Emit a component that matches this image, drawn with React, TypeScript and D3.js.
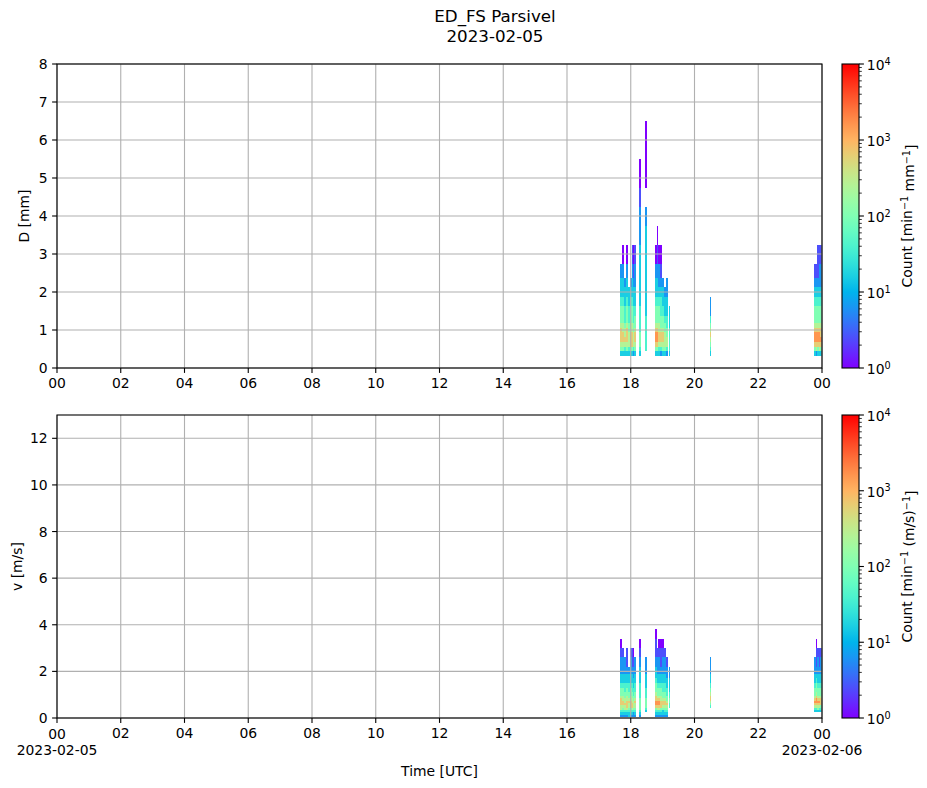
import React from 'react';
import * as d3 from 'd3';

const title = 'ED_FS Parsivel';
const dayStart = Date.UTC(2023, 1, 5);
const dayEnd = Date.UTC(2023, 1, 6);

// diameter / velocity class boundaries used by the mesh
const dEdges = [0.312, 0.437, 0.562, 0.687, 0.812, 0.937, 1.062, 1.187, 1.375, 1.625, 1.875, 2.125, 2.375, 2.75, 3.25, 3.75, 4.25, 4.75, 5.5, 6.5];
const vEdges = [0.05, 0.15, 0.25, 0.35, 0.45, 0.55, 0.65, 0.75, 0.85, 0.95, 1.1, 1.3, 1.5, 1.7, 1.9, 2.2, 2.6, 3.0, 3.4, 3.8];

// time columns, minutes after 00 UTC
const colStart = [1060, 1064, 1067, 1071, 1075, 1079, 1082, 1085, 1087, 1095, 1107, 1125, 1129, 1132, 1135, 1139, 1143, 1146, 1152, 1229, 1425, 1428, 1431, 1434, 1437];
const colEnd = [1064, 1067, 1071, 1075, 1079, 1082, 1085, 1087, 1090, 1099, 1111, 1129, 1132, 1135, 1139, 1143, 1146, 1150, 1154, 1231, 1428, 1431, 1434, 1437, 1440];

// counts per class, bottom class first; digit n -> 10^(0.4 n), '.' -> no drops
const dProfiles = [
  '3567776554332',
  '35677665543320',
  '346766544332',
  '35677765543320',
  '34666554433',
  '357776655432',
  '35777665543321',
  '24666554433210',
  '35677655433221',
  '345554444333332210',
  '.444444433333332.00',
  '35788765543320',
  '357887655433210',
  '34677665543220',
  '24677655443210',
  '356776554332',
  '35666554332',
  '246655443322',
  '344444333',
  '3456765422',
  '3578876554321',
  '2678876554321',
  '35788765543211',
  '36788765543221',
  '35787765543221',
];
const vProfiles = [
  '234667776554332210',
  '23456776655433221',
  '2346676655443322',
  '23467776655433211',
  '334566765544332',
  '23457776655433221',
  '23467766554433211',
  '22456665544332210',
  '2345667655443322',
  '234555554444333210',
  '..34555544433322',
  '2345788776554332110',
  '23467887655433221',
  '234678876554332210',
  '234577766554332110',
  '233567765544332210',
  '23456776554433221',
  '2345676554433221',
  '....44554433322',
  '....456776543322',
  '..34678765543322',
  '..3467887655432110',
  '..356787655433221',
  '..346787655433211',
  '..345777655433221',
];

const cbTicks = [1, 10, 100, 1000, 10000];

const font = 'DejaVu Sans';
const fs = 13.9;
const left = 57;
const right = 822;
const cbX = 842;
const cbW = 17;

// matplotlib "rainbow"
function rainbow(t: number) {
  const c = (v: number) => Math.round(Math.max(0, Math.min(1, v)) * 255);
  return `rgb(${c(Math.abs(2 * t - 0.5))},${c(Math.sin(Math.PI * t))},${c(Math.cos((Math.PI * t) / 2))})`;
}

const norm = d3.scaleLog().domain([1, 10000]).range([0, 1]).clamp(true);
const x = d3.scaleUtc().domain([new Date(dayStart), new Date(dayEnd)]).range([left, right]);
const xTicks = x.ticks(d3.utcHour.every(2)!);
const fmtH = d3.utcFormat('%H');
const fmtD = d3.utcFormat('%Y-%m-%d');
const toDate = (m: number) => new Date(dayStart + m * 60000);

const panels = [
  { key: 'd', top: 64, bottom: 368, yMax: 8, yTicks: d3.range(0, 9), label: 'D [mm]', labelX: 24, edges: dEdges, profiles: dProfiles, unit: 'mm' },
  { key: 'v', top: 415, bottom: 718, yMax: 13, yTicks: d3.range(0, 13, 2), label: 'v [m/s]', labelX: 17, edges: vEdges, profiles: vProfiles, unit: '(m/s)' },
];

function Panel({ p, last }: { p: typeof panels[0]; last: boolean }) {
  const y = d3.scaleLinear().domain([0, p.yMax]).range([p.bottom, p.top]);
  const cb = d3.scaleLog().domain([1, 10000]).range([p.bottom, p.top]);
  const minor: number[] = [];
  for (let e = 0; e < 4; e++) for (let k = 2; k < 10; k++) minor.push(k * Math.pow(10, e));
  const cells: JSX.Element[] = [];
  p.profiles.forEach((prof, j) => {
    const x0 = x(toDate(colStart[j]));
    const x1 = x(toDate(colEnd[j]));
    prof.split('').forEach((ch, i) => {
      if (ch === '.') return;
      const count = Math.pow(10, 0.4 * +ch);
      const y0 = y(p.edges[i]);
      const y1 = y(p.edges[i + 1]);
      cells.push(
        <rect key={`${j}-${i}`} x={x0} y={y1} width={x1 - x0} height={y0 - y1} fill={rainbow(norm(count))} shapeRendering="crispEdges" />
      );
    });
  });
  const stops = d3.range(0, 1.0001, 0.05);
  const cy = (p.top + p.bottom) / 2;
  return (
    <g>
      <defs>
        <clipPath id={`clip-${p.key}`}>
          <rect x={left} y={p.top} width={right - left} height={p.bottom - p.top} />
        </clipPath>
        <linearGradient id={`grad-${p.key}`} x1="0" y1="1" x2="0" y2="0">
          {stops.map((t) => (
            <stop key={t} offset={t} stopColor={rainbow(t)} />
          ))}
        </linearGradient>
      </defs>
      <g clipPath={`url(#clip-${p.key})`}>{cells}</g>
      {/* grid */}
      <g stroke="#b0b0b0" strokeWidth={1.1}>
        {xTicks.map((t) => (
          <line key={+t} x1={x(t)} x2={x(t)} y1={p.top} y2={p.bottom} />
        ))}
        {p.yTicks.map((t) => (
          <line key={t} x1={left} x2={right} y1={y(t)} y2={y(t)} />
        ))}
      </g>
      <rect x={left} y={p.top} width={right - left} height={p.bottom - p.top} fill="none" stroke="#000" strokeWidth={1.1} />
      {/* x axis */}
      {xTicks.map((t, i) => (
        <g key={+t}>
          <line x1={x(t)} x2={x(t)} y1={p.bottom} y2={p.bottom + 4.9} stroke="#000" strokeWidth={1.1} />
          <text x={x(t)} y={p.bottom + 19.5 + (last && (i === 0 || i === xTicks.length - 1) ? 1.5 : 0)} textAnchor="middle" fontSize={fs} fontFamily={font}>
            {fmtH(t)}
          </text>
          {last && (i === 0 || i === xTicks.length - 1) && (
            <text x={x(t)} y={p.bottom + 37} textAnchor="middle" fontSize={fs} fontFamily={font}>
              {fmtD(t)}
            </text>
          )}
        </g>
      ))}
      {/* y axis */}
      {p.yTicks.map((t) => (
        <g key={t}>
          <line x1={left - 4.9} x2={left} y1={y(t)} y2={y(t)} stroke="#000" strokeWidth={1.1} />
          <text x={left - 9.3} y={y(t)} dy="0.36em" textAnchor="end" fontSize={fs} fontFamily={font}>
            {t}
          </text>
        </g>
      ))}
      <text transform={`translate(${p.labelX},${cy}) rotate(-90)`} textAnchor="middle" dy="0.36em" fontSize={fs} fontFamily={font}>
        {p.label}
      </text>
      {/* colorbar */}
      <rect x={cbX} y={p.top} width={cbW} height={p.bottom - p.top} fill={`url(#grad-${p.key})`} />
      <rect x={cbX} y={p.top} width={cbW} height={p.bottom - p.top} fill="none" stroke="#000" strokeWidth={1.1} />
      {minor.map((m) => (
        <line key={m} x1={cbX + cbW} x2={cbX + cbW + 2.8} y1={cb(m)} y2={cb(m)} stroke="#000" strokeWidth={0.8} />
      ))}
      {cbTicks.map((t) => (
        <g key={t}>
          <line x1={cbX + cbW} x2={cbX + cbW + 4.9} y1={cb(t)} y2={cb(t)} stroke="#000" strokeWidth={1.1} />
          <text x={cbX + cbW + 7.8} y={cb(t)} dy="0.42em" fontSize={fs} fontFamily={font}>
            10
            <tspan dy="-0.55em" fontSize={9.7}>
              {Math.round(Math.log10(t))}
            </tspan>
          </text>
        </g>
      ))}
      <text transform={`translate(907,${cy}) rotate(-90)`} textAnchor="middle" dy="0.36em" fontSize={fs} fontFamily={font}>
        Count [min
        <tspan dy="-0.45em" fontSize={9.7}>−1</tspan>
        <tspan dy="0.45em"> {p.unit}</tspan>
        <tspan dy="-0.45em" fontSize={9.7}>−1</tspan>
        <tspan dy="0.45em">]</tspan>
      </text>
    </g>
  );
}

export default function App() {
  return (
    <svg width={927} height={788} style={{ position: 'absolute', left: 0, top: 0, display: 'block', background: '#fff' }}>
      <text x={495} y={22} textAnchor="middle" fontSize={16.7} fontFamily={font}>
        {title}
      </text>
      <text x={495} y={42} textAnchor="middle" fontSize={16.7} fontFamily={font}>
        {fmtD(new Date(dayStart))}
      </text>
      {panels.map((p, i) => (
        <Panel key={p.key} p={p} last={i === panels.length - 1} />
      ))}
      <text x={(left + right) / 2} y={776} textAnchor="middle" fontSize={fs} fontFamily={font}>
        Time [UTC]
      </text>
    </svg>
  );
}
